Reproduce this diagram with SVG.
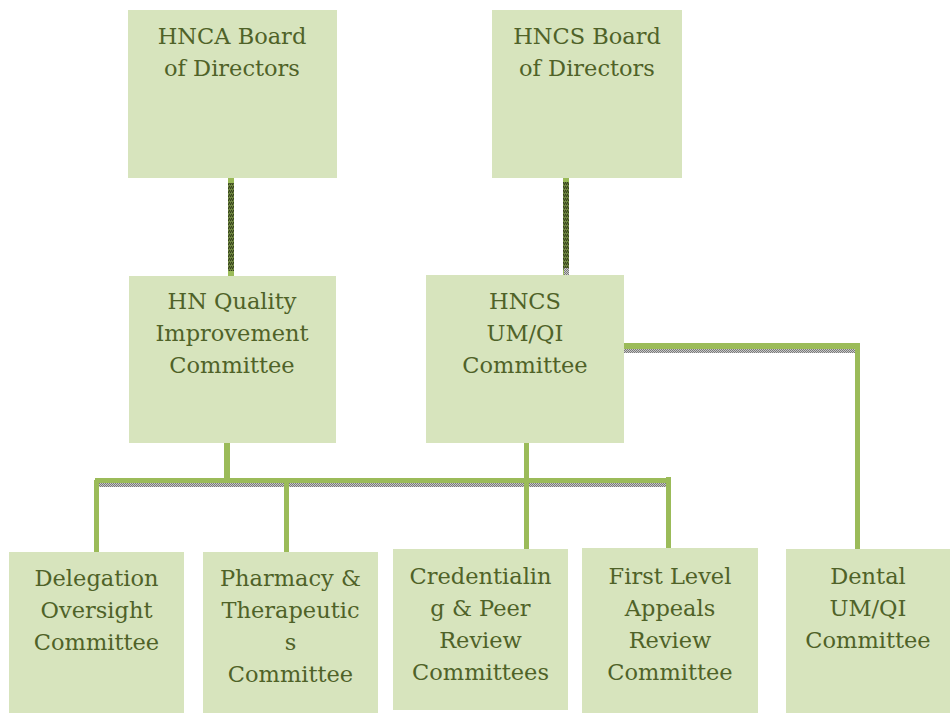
<svg xmlns="http://www.w3.org/2000/svg" width="950" height="713" viewBox="0 0 950 713">
<defs>
<pattern id="shadow" width="2" height="2" patternUnits="userSpaceOnUse">
<rect width="2" height="2" fill="#C8C8C8"/>
<rect width="1" height="1" fill="#7A7A7A"/>
<rect x="1" y="1" width="1" height="1" fill="#7A7A7A"/>
</pattern>
<pattern id="dark" width="2" height="4" patternUnits="userSpaceOnUse">
<rect width="2" height="4" fill="#6E8540"/>
<rect width="1" height="1" fill="#34401C"/>
<rect x="1" y="2" width="1" height="1" fill="#34401C"/>
<rect x="0" y="3" width="2" height="1" fill="#4A5A28"/>
</pattern>
<style>
.box{fill:#D7E4BD;}
text{font-family:'DejaVu Serif',serif;font-size:22.5px;fill:#4F6228;text-anchor:middle;}
.g{fill:#9BBB59;}
.s{fill:url(#shadow);}
.d{fill:url(#dark);}
</style>
</defs>
<g id="connectors">
<rect class="g" x="228" y="176" width="6" height="101"/>
<rect class="d" x="228" y="183" width="6" height="88"/>
<rect class="g" x="563" y="176" width="6" height="100"/>
<rect class="d" x="563" y="182" width="6" height="88"/>
<rect class="s" x="564" y="268" width="5" height="8"/>
<rect class="g" x="224" y="440" width="6" height="41"/>
<rect class="s" x="96" y="483" width="573" height="4"/>
<rect class="g" x="95" y="478" width="576" height="5"/>
<rect class="g" x="94" y="480" width="5" height="74"/>
<rect class="g" x="284" y="483" width="5" height="71"/>
<rect class="g" x="524" y="440" width="5" height="110"/>
<rect class="g" x="666" y="477" width="5" height="73"/>
<rect class="s" x="623" y="349" width="235" height="4"/>
<rect class="g" x="623" y="343" width="237" height="6"/>
<rect class="g" x="855" y="343" width="5" height="208"/>
</g>
<g id="hnca-board">
<rect class="box" x="128" y="10" width="209" height="168"/>
<text x="232" y="44">HNCA Board</text>
<text x="232" y="76">of Directors</text>
</g>
<g id="hncs-board">
<rect class="box" x="492" y="10" width="190" height="168"/>
<text x="587" y="44">HNCS Board</text>
<text x="587" y="76">of Directors</text>
</g>
<g id="hn-quality">
<rect class="box" x="129" y="276" width="207" height="167"/>
<text x="232" y="309">HN Quality</text>
<text x="232" y="341">Improvement</text>
<text x="232" y="373">Committee</text>
</g>
<g id="hncs-umqi">
<rect class="box" x="426" y="275" width="198" height="168"/>
<text x="525" y="309">HNCS</text>
<text x="525" y="341">UM/QI</text>
<text x="525" y="373">Committee</text>
</g>
<g id="delegation">
<rect class="box" x="9" y="552" width="175" height="161"/>
<text x="96.5" y="586">Delegation</text>
<text x="96.5" y="618">Oversight</text>
<text x="96.5" y="650">Committee</text>
</g>
<g id="pharmacy">
<rect class="box" x="203" y="552" width="175" height="161"/>
<text x="290.5" y="586">Pharmacy &amp;</text>
<text x="290.5" y="618">Therapeutic</text>
<text x="290.5" y="650">s</text>
<text x="290.5" y="682">Committee</text>
</g>
<g id="credentialing">
<rect class="box" x="393" y="549" width="175" height="161"/>
<text x="480.5" y="584">Credentialin</text>
<text x="480.5" y="616">g &amp; Peer</text>
<text x="480.5" y="648">Review</text>
<text x="480.5" y="680">Committees</text>
</g>
<g id="first-level">
<rect class="box" x="582" y="548" width="176" height="165"/>
<text x="670" y="584">First Level</text>
<text x="670" y="616">Appeals</text>
<text x="670" y="648">Review</text>
<text x="670" y="680">Committee</text>
</g>
<g id="dental">
<rect class="box" x="786" y="549" width="164" height="164"/>
<text x="868" y="584">Dental</text>
<text x="868" y="616">UM/QI</text>
<text x="868" y="648">Committee</text>
</g>
</svg>
